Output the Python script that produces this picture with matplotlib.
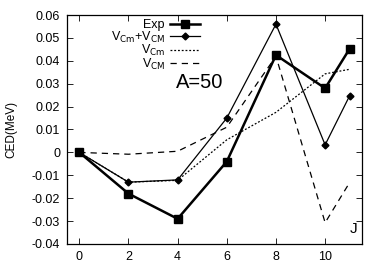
import matplotlib
matplotlib.use("Agg")
import matplotlib.pyplot as plt

plt.rcParams['font.family'] = ['Liberation Sans', 'DejaVu Sans']

# spins
J_exp = [0, 2, 4, 6, 8, 10, 11]
J_th = [0, 2, 4, 6, 8, 10, 11]

# CED values (MeV)
ced_exp = [0.0, -0.018, -0.029, -0.004, 0.0425, 0.028, 0.0453]
ced_total = [0.0, -0.013, -0.012, 0.015, 0.056, 0.0033, 0.0248]
ced_vcm_small = [0.0, -0.013, -0.0122, 0.0055, 0.0175, 0.0343, 0.0363]
ced_vcm_big = [0.0, -0.0008, 0.0005, 0.011, 0.042, -0.0307, -0.0131]

labels = ['Exp', r'V$_{\rm Cm}$+V$_{\rm CM}$', r'V$_{\rm Cm}$', r'V$_{\rm CM}$']

fig = plt.figure(figsize=(3.82, 2.67), dpi=100)
ax = fig.add_axes([67/382, 1-244/267, (362-67)/382, (244-15)/267])

ax.plot(J_exp, ced_exp, color='black', lw=1.8, marker='s', ms=6, label=labels[0])
ax.plot(J_th, ced_total, color='black', lw=0.9, marker='D', ms=3.5, label=labels[1])
ax.plot(J_th, ced_vcm_small, color='black', lw=0.9, ls=(0, (1.5, 1.5)), label=labels[2])
ax.plot(J_th, ced_vcm_big, color='black', lw=0.9, ls=(0, (5, 4)), label=labels[3])

ax.set_xlim(-0.5, 11.5)
ax.set_ylim(-0.04, 0.06)
ax.set_xticks([0, 2, 4, 6, 8, 10])
ax.set_yticks([-0.04, -0.03, -0.02, -0.01, 0, 0.01, 0.02, 0.03, 0.04, 0.05, 0.06])
ax.set_yticklabels(['-0.04', '-0.03', '-0.02', '-0.01', '0', '0.01', '0.02', '0.03', '0.04', '0.05', '0.06'])
ax.tick_params(direction='in', top=True, right=True, labelsize=9, length=4, width=0.6, pad=5)
for s in ax.spines.values():
    s.set_linewidth(0.9)

ax.set_ylabel('CED(MeV)', fontsize=8.5, labelpad=10)

ax.text(0.37, 0.705, 'A=50', transform=ax.transAxes, fontsize=14.5, ha='left', va='center')
ax.text(0.985, 0.035, 'J', transform=ax.transAxes, fontsize=11, ha='right', va='bottom')

ax.legend(loc='upper right', bbox_to_anchor=(0.48, 1.02), frameon=False, markerfirst=False,
          fontsize=9, handlelength=2.4, handletextpad=0.4, labelspacing=-0.12,
          borderpad=0.2)

fig.savefig('out.png', dpi=100)
